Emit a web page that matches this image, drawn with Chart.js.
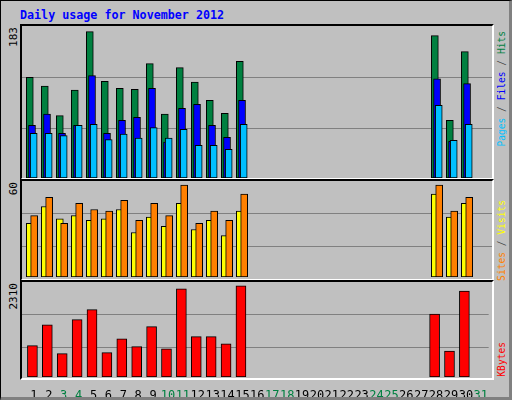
<!DOCTYPE html>
<html><head><meta charset="utf-8">
<script src="https://cdn.jsdelivr.net/npm/chart.js@4"></script>
<style>
html,body{margin:0;padding:0;background:#C0C0C0;}
#frame{position:absolute;left:0;top:0;width:508px;height:396px;border-top:1px solid #000;border-left:1px solid #000;border-right:4px solid #808080;border-bottom:4px solid #808080;background:#C0C0C0;font-family:"DejaVu Sans Mono",monospace;}
.panel{position:absolute;border-top:2px solid #000;border-left:2px solid #000;border-right:2px solid #fff;border-bottom:2px solid #fff;box-sizing:border-box;}
canvas{position:absolute;}
.vt{position:absolute;writing-mode:vertical-rl;transform:rotate(180deg);white-space:nowrap;}
.yl{font-size:11px;line-height:12px;}
.rl{font-size:9.6px;line-height:11px;}
#title{position:absolute;left:19px;top:7px;color:#0000FF;font-weight:bold;font-size:11.7px;}
</style></head><body>
<div id="frame">
<div id="title">Daily usage for November 2012</div>
<div class="panel" style="left:19px;top:23px;width:474px;height:156px"></div>
<div class="panel" style="left:19px;top:178px;width:474px;height:102px"></div>
<div class="panel" style="left:19px;top:279px;width:474px;height:100px"></div>
<div class="vt yl" style="left:7px;top:26px">183</div>
<div class="vt yl" style="left:7px;top:181px">60</div>
<div class="vt yl" style="left:7px;top:282px">2310</div>
<div class="vt rl" style="left:495px;top:30px"><span style="color:#00C0FF">Pages</span><span style="color:#404040"> / </span><span style="color:#0000FF">Files</span><span style="color:#404040"> / </span><span style="color:#008040">Hits</span></div>
<div class="vt rl" style="left:495px;top:199px"><span style="color:#FF8000">Sites</span><span style="color:#404040"> / </span><span style="color:#FFFF00">Visits</span></div>
<div class="vt rl" style="left:495px;top:341px"><span style="color:#FF0000">KBytes</span></div>
<canvas id="c1" style="left:21px;top:25px;width:470px;height:152px"></canvas>
<canvas id="c2" style="left:21px;top:180px;width:470px;height:96px"></canvas>
<canvas id="c3" style="left:21px;top:281px;width:470px;height:115px"></canvas>
</div>
<script>
const days = Array.from({length:31},(_,i)=>String(i+1));
const weekendDays = [3,4,10,11,17,18,24,25,31];
const N = null;
const hits   = [126,115,78,110,183,121,112,111,143,80,138,120,97,81,146, N,N,N,N,N,N,N,N,N,N,N,N,178,72,158,N];
const files  = [66,80,56,66,128,56,72,76,112,45,87,92,66,51,97, N,N,N,N,N,N,N,N,N,N,N,N,124,46,118,N];
const pages  = [56,56,53,66,67,48,55,50,63,50,61,41,41,36,67, N,N,N,N,N,N,N,N,N,N,N,N,91,47,67,N];
const sites  = [35,46,38,40,37,38,44,29,39,33,48,31,37,27,43, N,N,N,N,N,N,N,N,N,N,N,N,54,39,48,N];
const visits = [40,52,35,48,44,43,50,37,48,40,60,35,43,37,54, N,N,N,N,N,N,N,N,N,N,N,N,60,43,52,N];
const kbytes = [792,1323,590,1450,1703,615,969,767,1273,716,2234,1020,1020,842,2310, N,N,N,N,N,N,N,N,N,N,N,N,1594,658,2176,N];

const XMIN = 0.48, XMAX = 31.81;
function pts(arr, off){ return arr.map((v,i)=> v==null?null:{x:i+1+off,y:v}).filter(p=>p); }
function ds(arr, off, color, order, w){
  return {data:pts(arr,off),backgroundColor:color,borderColor:'#000',borderWidth:1,borderSkipped:false,barThickness:w,order:order,grouped:false};
}
function yScale(max, grids){
  return {min:0,max:max,
    afterBuildTicks:s=>{s.ticks=grids.map(v=>({value:v}));},
    ticks:{display:false},border:{display:false},
    grid:{color:'#808080',lineWidth:1,drawTicks:false},
    afterFit:s=>{s.width=0;}};
}
function xScale(show){
  const sc = {type:'linear',offset:false,min:XMIN,max:XMAX,grid:{display:false,offset:false},border:{display:false}};
  if(!show){ sc.display=false; return sc; }
  sc.afterBuildTicks = s=>{ s.ticks = days.map((d,i)=>({value:i+1+0.28,label:d})); };
  sc.ticks = {autoSkip:false,maxRotation:0,padding:4,font:{family:'DejaVu Sans Mono',size:12},
    callback:(v,i)=>days[i],
    color:c=>weekendDays.includes(c.index+1)?'#008040':'#000'};
  sc.afterFit = s=>{s.height=20;};
  return sc;
}
const common = {responsive:false,animation:false,layout:{padding:0},
  plugins:{legend:{display:false},tooltip:{enabled:false}}};
function mk(id,w,h,datasets,ymax,grids,showX){
  const c=document.getElementById(id); c.width=w; c.height=h;
  new Chart(c,{type:'bar',data:{datasets},options:Object.assign({},common,{
    scales:{x:xScale(showX),y:yScale(ymax,grids)}})});
}
mk('c1',470,152,[ds(hits,0,'#008040',3,7),ds(files,0.147,'#0000FF',2,7),ds(pages,0.26,'#00C0FF',1,7)],190.1,[61.3,125.1],false);
mk('c2',470,96,[ds(sites,0,'#FFFF00',2,7),ds(visits,0.29,'#FF8000',1,7)],62.6,[19.6,41.1],false);
mk('c3',470,115,[ds(kbytes,0.18,'#FF0000',1,10)],2404,[741,1586],true);
</script>
</body></html>
